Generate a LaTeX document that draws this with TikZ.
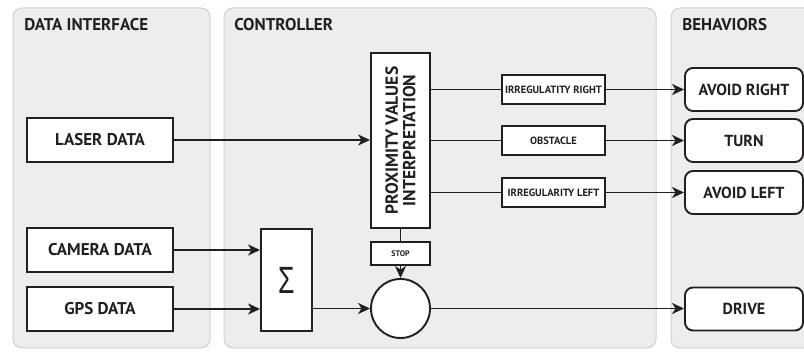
\documentclass[tikz,border=0pt]{standalone}
\usepackage{fontspec}
\setmainfont{PT Sans}[BoldFont={PT Sans Bold}]
\newfontfamily\sigmafont{Liberation Sans}
\usetikzlibrary{arrows.meta,calc,positioning}
\definecolor{panelgray}{RGB}{237,237,237}
\definecolor{paneledge}{RGB}{208,208,208}
\definecolor{inkblack}{RGB}{35,31,32}

\begin{document}
\begin{tikzpicture}[x=1pt,y=-1pt,line width=1.9pt,draw=inkblack,text=inkblack,
    panel/.style={fill=panelgray,draw=paneledge,line width=1pt,rounded corners=9pt},
    paneltitle/.style={anchor=west,font=\fontsize{17}{19}\selectfont\bfseries},
    databox/.style={draw,fill=white,minimum width=146pt,minimum height=44pt,inner sep=0pt,font=\fontsize{17}{19}\selectfont\bfseries},
    labelbox/.style={draw,fill=white,minimum width=103pt,minimum height=29pt,inner sep=0pt,font=\fontsize{10.5}{12}\selectfont\bfseries},
    behavbox/.style={draw,fill=white,rounded corners=8pt,minimum width=118pt,minimum height=43pt,inner sep=0pt,font=\fontsize{16}{18}\selectfont\bfseries},
    arr/.style={-{Stealth[length=12pt,width=11pt,inset=3.5pt]}}]
          \clip (0,0) rectangle (804,352);
          \fill[white] (0,0) rectangle (804,352);
          % panels
          \draw[panel] (13,8) rectangle (210,348);
          \draw[panel] (224,8) rectangle (656,348);
          \draw[panel] (671,8) rectangle (830,348);
          \node[paneltitle] at (20,25) {DATA INTERFACE};
          \node[paneltitle] at (230,25) {CONTROLLER};
          \node[paneltitle] at (678,25) {BEHAVIORS};
          % inputs
          \node[databox] (laser) at (100,140) {LASER DATA};
          \node[databox] (camera) at (100,250) {CAMERA DATA};
          \node[databox] (gps) at (100,309) {GPS DATA};
          % controller
          \node[draw,fill=white,minimum width=51pt,minimum height=102pt,inner sep=0pt,font=\sigmafont\fontsize{38}{38}\selectfont] (sum) at (286.5,280) {\scalebox{0.7}[1]{Σ}};
          \node[draw,fill=white,minimum width=59pt,minimum height=175pt,inner sep=0pt] (prox) at (400.5,140.5) {};
          \node[rotate=90,align=center,font=\fontsize{17.5}{17.5}\selectfont\bfseries] at (prox.center) {PROXIMITY VALUES\\INTERPRETATION};
          \node[draw,fill=white,minimum width=59pt,minimum height=23pt,inner sep=0pt,font=\fontsize{8}{9}\selectfont\bfseries] (stop) at (400.5,253.5) {STOP};
          \node[draw,fill=white,circle,minimum size=59pt,inner sep=0pt] (merge) at (400.5,308.5) {};
          \node[labelbox] (irrright) at (553.5,89.5) {IRREGULATITY RIGHT};
          \node[labelbox] (obstacle) at (553.5,140.5) {OBSTACLE};
          \node[labelbox] (irrleft) at (553.5,192.5) {IRREGULARITY LEFT};
          % behaviors
          \node[behavbox] (avoidright) at (744,89.5) {AVOID RIGHT};
          \node[behavbox] (turn) at (744,140.5) {TURN};
          \node[behavbox] (avoidleft) at (744,192.5) {AVOID LEFT};
          \node[behavbox] (drive) at (744,309) {DRIVE};
          % connectors
          \draw[arr] (laser.east) -- (laser.east -| prox.west);
          \draw[arr] (camera.east) -- (camera.east -| sum.west);
          \draw[arr] (gps.east) -- (gps.east -| sum.west);
          \draw (prox.east |- irrright.west) -- (irrright.west);
          \draw (prox.east |- obstacle.west) -- (obstacle.west);
          \draw (prox.east |- irrleft.west) -- (irrleft.west);
          \draw[arr] (irrright.east) -- (avoidright.west);
          \draw[arr] (obstacle.east) -- (turn.west);
          \draw[arr] (irrleft.east) -- (avoidleft.west);
          \draw (prox.south) -- (stop.north);
          \draw[arr] (stop.south) -- (merge.north);
          \draw[arr] (sum.east |- merge.west) -- (merge.west);
          \draw[arr] (merge.east) -- (merge.east -| drive.west);
        \end{tikzpicture}
\end{document}
